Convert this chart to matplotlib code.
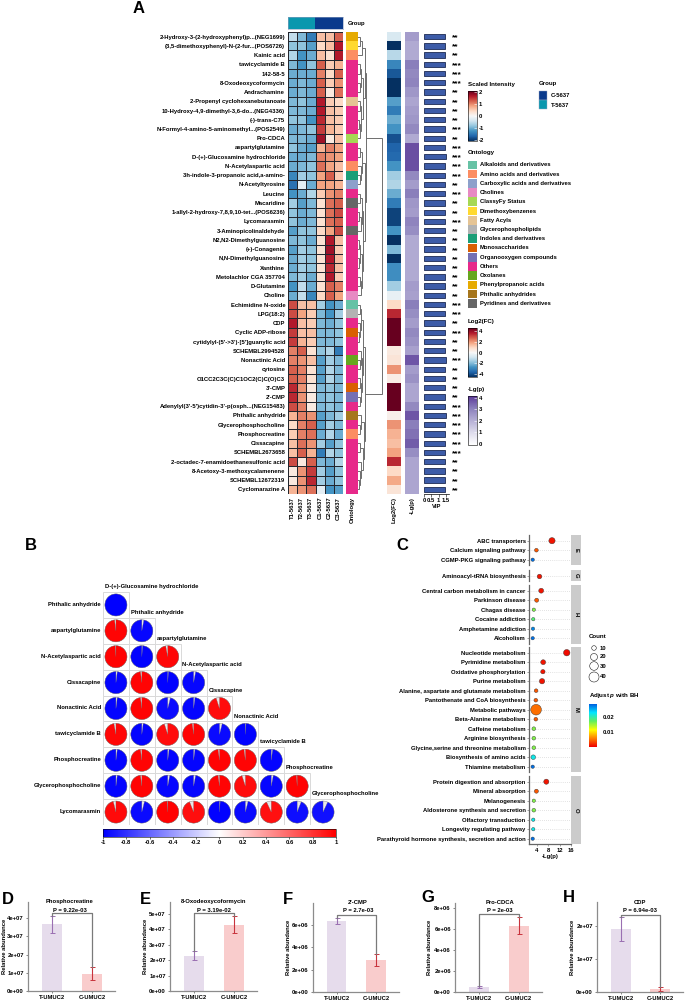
#!/usr/bin/python3

import matplotlib

matplotlib.use("Agg")
import matplotlib.pyplot as plt
import numpy as np
from matplotlib.cm import ScalarMappable
from matplotlib.colors import LinearSegmentedColormap, ListedColormap, Normalize
from matplotlib.patches import Circle, Rectangle, Wedge
from matplotlib.ticker import FuncFormatter

plt.rcParams["font.family"] = ["Liberation Sans", "DejaVu Sans"]
plt.rcParams["font.weight"] = "bold"
plt.rcParams["axes.labelweight"] = "bold"
plt.rcParams["axes.titleweight"] = "bold"
plt.rcParams["axes.unicode_minus"] = False
plt.rcParams["mathtext.fontset"] = "custom"
plt.rcParams["mathtext.bfit"] = "Liberation Sans:italic:bold"

W, H = 685, 1002
FS = 4.2

# Panel A
METABOLITES = [
    "2-Hydroxy-3-(2-hydroxyphenyl)p...(NEG1699)", "(3,5-dimethoxyphenyl)-N-(2-fur...(POS6726)",
    "Kainic acid", "tawicyclamide B", "142-58-5", "8-Oxodeoxycoformycin", "Andrachamine",
    "2-Propenyl cyclohexanebutanoate", "10-Hydroxy-4,9-dimethyl-3,6-do...(NEG4336)", "(-)-trans-C75",
    "N-Formyl-4-amino-5-aminomethyl...(POS2549)", "Pro-CDCA", "aspartylglutamine",
    "D-(+)-Glucosamine hydrochloride", "N-Acetylaspartic acid", "3h-indole-3-propanoic acid,a-amino-",
    "N-Acetyltyrosine", "Leucine", "Macaridine", "1-allyl-2-hydroxy-7,8,9,10-tet...(POS6236)",
    "Lycomarasmin", "3-Aminopicolinaldehyde", "N2,N2-Dimethylguanosine", "(+)-Conagenin",
    "N,N-Dimethylguanosine", "Xanthine", "Metolachlor CGA 357704", "D-Glutamine", "Choline",
    "Echimidine N-oxide", "LPG(18:2)", "CDP", "Cyclic ADP-ribose", "cytidylyl-(5'->3')-[5']guanylic acid",
    "SCHEMBL2994528", "Nonactinic Acid", "cytosine", "O1CC2C3C(C)C1OC2(C)C(O)C3", "3'-CMP", "2'-CMP",
    "Adenylyl(3'-5')cytidin-3'-p(osph...(NEG15483)", "Phthalic anhydride", "Glycerophosphocholine",
    "Phosphocreatine", "Cissacapine", "SCHEMBL2673658", "2-octadec-7-enamidoethanesulfonic acid",
    "8-Acetoxy-3-methoxycalamenene", "SCHEMBL12672319", "Cyclomarazine A",
]
SAMPLES = ["T1-5637", "T2-5637", "T3-5637", "C1-5637", "C2-5637", "C3-5637"]
INTENSITY = [
    [-0.5, -0.9, -1.4, 0.6, 0.6, 1.2], [-0.8, -0.8, -1.1, 0.4, 0.6, 1.6], [-0.6, -1.2, -1.0, 0.6, 0.3, 1.6],
    [-0.9, -1.2, -0.8, 1.2, 0.5, 0.7], [-1.0, -1.0, -1.0, 1.0, 0.4, 1.2], [-1.0, -0.9, -1.0, 1.2, 0.5, 0.9],
    [-1.0, -0.9, -1.0, 1.2, 0.2, 1.1], [-0.9, -0.8, -1.0, 1.6, 0.5, 0.4], [-0.9, -0.9, -1.0, 1.6, 0.6, 0.5],
    [-0.8, -0.8, -1.2, 1.5, 0.6, 0.5], [-1.0, -0.9, -0.8, 1.4, 0.7, 0.5], [-0.9, -0.9, -1.0, 1.7, 0.2, 0.6],
    [-0.8, -1.0, -1.1, 0.7, 1.0, 0.8], [-1.0, -1.0, -0.9, 1.0, 0.9, 0.8], [-1.0, -0.9, -0.8, 1.1, 0.8, 0.6],
    [-1.3, -0.7, -0.8, 0.8, 1.2, 0.5], [-1.5, -0.2, -1.0, 0.8, 0.8, 0.7], [-1.2, -1.0, -0.6, 0.5, 0.9, 1.0],
    [-0.7, -1.1, -0.9, 0.3, 1.1, 1.2], [-0.8, -1.0, -0.9, 0.3, 1.1, 1.3], [-0.8, -1.0, -0.9, 0.3, 1.1, 1.2],
    [-1.1, -0.8, -0.8, 0.4, 0.8, 1.3], [-0.9, -0.8, -1.0, 0.3, 1.6, 0.6], [-1.1, -0.7, -0.8, 0.3, 1.7, 0.5],
    [-1.0, -0.7, -0.8, 0.3, 1.6, 0.6], [-1.0, -0.7, -0.8, 0.3, 1.5, 0.6], [-0.9, -0.7, -1.0, 0.3, 1.6, 0.5],
    [-1.2, -0.5, -1.0, 0.3, 1.2, 1.0], [-1.0, -0.5, -1.3, 0.4, 1.2, 0.8], [1.3, 0.6, 0.6, -0.7, -1.2, -1.0],
    [1.3, 0.8, 0.5, -0.9, -1.2, -0.7], [1.6, 0.6, 0.5, -0.9, -1.0, -0.8], [1.4, 0.6, 0.6, -0.9, -0.9, -0.8],
    [1.4, 0.7, 0.5, -0.9, -0.9, -0.8], [1.0, 1.2, 0.3, -0.8, -0.6, -1.4], [1.0, 0.9, 0.6, -1.1, -0.7, -0.9],
    [1.2, 1.0, 0.3, -1.1, -0.6, -0.9], [1.2, 1.0, 0.3, -1.1, -0.6, -0.9], [1.5, 0.9, 0.2, -0.9, -0.8, -0.9],
    [1.5, 0.9, 0.2, -0.9, -0.8, -0.9], [1.3, 1.0, 0.2, -0.9, -0.8, -0.9], [0.7, 1.0, 0.9, -1.1, -0.9, -0.7],
    [0.4, 1.0, 1.2, -1.1, -0.7, -0.9], [0.5, 1.0, 1.1, -1.0, -0.6, -1.0], [0.6, 1.1, 0.9, -0.7, -1.1, -0.8],
    [0.6, 1.2, 0.7, -1.4, -0.6, -0.8], [1.3, 0.2, 1.2, -0.9, -1.0, -0.6], [0.2, 0.9, 1.4, -0.7, -1.1, -0.8],
    [0.2, 0.9, 1.5, -0.7, -1.0, -0.8], [0.7, 0.9, 1.1, -0.2, -1.2, -1.1],
]
ONTOLOGY_NAMES = [
    "Alkaloids and derivatives", "Amino acids and derivatives", "Carboxylic acids and derivatives", "Cholines",
    "ClassyFy Status", "Dimethoxybenzenes", "Fatty Acyls", "Glycerophospholipids", "Indoles and derivatives",
    "Monosaccharides", "Organooxygen compounds", "Others", "Oxolanes", "Phenylpropanoic acids",
    "Phthalic anhydrides", "Pyridines and derivatives",
]
ONTOLOGY_COLORS = [
    "#66c2a5", "#fc8d62", "#8da0cb", "#e78ac3", "#a6d854", "#ffd92f", "#e5c494", "#b3b3b3",
    "#1b9e77", "#d95f02", "#7570b3", "#e7298a", "#66a61e", "#e6ab02", "#a6761d", "#666666",
]
ONTOLOGY_ROW = [
    13, 5, 1, 11, 11, 11, 11, 6, 11, 11, 11, 4, 11, 11, 1, 8, 2, 11, 15, 11, 11, 15, 11, 11, 11,
    11, 11, 11, 3, 0, 7, 11, 9, 11, 11, 12, 11, 11, 9, 10, 11, 14, 11, 1, 11, 11, 11, 11, 11, 11,
]
LOG2FC = [
    -0.6, -4, -1.1, -2.6, -3.4, -4, -4, -2.2, -2.8, -2.0, -2.4, -3.5, -3.2, -3.1, -2.4, -1.4, -1.2, -2.0, -2.8,
    -3.7, -3.7, -2.4, -4, -1.8, -4, -2.5, -2.5, -1.4, -0.3, 0.8, 3.0, 4.5, 4.5, 4.5, 0.4, 0.5, 1.8, 0.3, 4.5,
    4.5, 4.5, 0.2, 1.8, 1.4, 1.2, 1.6, 3.0, 0.8, 1.5, 0.5,
]
LGP = [
    2.4, 2.1, 2.1, 3.0, 2.8, 2.9, 2.5, 2.2, 2.4, 2.5, 2.8, 2.1, 3.7, 3.7, 3.7, 2.8, 2.4, 3.0, 2.5, 2.4, 2.9, 2.7,
    2.1, 2.1, 2.1, 2.1, 2.1, 2.4, 2.3, 3.0, 2.7, 2.4, 2.8, 2.6, 2.3, 3.6, 2.4, 2.6, 2.2, 2.2, 2.8, 3.6, 3.0, 3.2,
    3.5, 2.7, 2.2, 2.2, 2.2, 2.2,
]
VIP = [
    1.40, 1.40, 1.40, 1.45, 1.45, 1.45, 1.40, 1.40, 1.42, 1.42, 1.45, 1.40, 1.45, 1.48, 1.45, 1.45, 1.40, 1.45,
    1.42, 1.42, 1.45, 1.42, 1.42, 1.42, 1.42, 1.42, 1.42, 1.42, 1.42, 1.45, 1.45, 1.42, 1.45, 1.42, 1.42, 1.48,
    1.42, 1.42, 1.42, 1.42, 1.45, 1.48, 1.45, 1.45, 1.45, 1.45, 1.42, 1.42, 1.42, 1.42,
]
STARS = [
    2, 2, 2, 3, 3, 3, 2, 2, 2, 2, 3, 2, 3, 3, 3, 3, 2, 3, 2, 2, 3, 2, 2, 2, 2,
    2, 2, 2, 2, 3, 3, 2, 3, 2, 2, 3, 2, 2, 2, 2, 3, 3, 3, 3, 3, 3, 2, 2, 2, 2,
]
# (merge height, left, right); leaves are row numbers
ROW_TREE = (
    24,
    (8,
     (7, (3.5, (2, 0, 1), 2),
      (5, (3, (1.5, 3, 4), (1.5, 5, 6)), (3, (1.5, 7, 8), (2, (1, 9, 10), 11)))),
     (6.5, (4, (1.5, 12, 13), (2.5, 14, (1.5, 15, 16))),
      (5, (3.5, (2, 17, 18), (2.5, (1, 19, 20), 21)),
       (4, (2, (1, 22, 23), (1, 24, 25)), (2.5, (1.5, 26, 27), 28))))),
    (7,
     (5, (3, (2, 29, 30), (1.5, 31, (1, 32, 33))),
      (4, (2.5, 34, (1.5, 35, 36)), (2.5, (1.5, 37, 38), (1.5, 39, 40)))),
     (5.5, (3, 41, (1.5, 42, 43)), (4.5, (2, 44, 45), (3, 46, (2, 47, (1, 48, 49)))))),
)

# Panel B
CORR_NAMES = [
    "D-(+)-Glucosamine hydrochloride", "Phthalic anhydride", "aspartylglutamine", "N-Acetylaspartic acid",
    "Cissacapine", "Nonactinic Acid", "tawicyclamide B", "Phosphocreatine", "Glycerophosphocholine", "Lycomarasmin",
]
CORR = [
    [-1.0],
    [0.98, -0.97],
    [0.99, -0.99, 0.97],
    [-0.98, 0.98, -0.99, -0.97],
    [-0.98, 0.98, -0.96, -0.98, 0.95],
    [0.97, -0.98, 0.95, 0.98, -0.96, -0.99],
    [-0.98, 0.98, -0.98, -0.98, 0.98, 0.98, -0.98],
    [-0.98, 0.98, -0.97, -0.97, 0.98, 0.95, -0.97, 0.99],
    [0.96, -0.96, 0.99, 0.94, -0.99, -0.96, 0.93, -0.94, -0.93],
]

# Panel C
PATH_GROUPS = ["E", "G", "H", "M", "O"]
PATH_SIZES = [3, 1, 6, 13, 7]
PATH_NAMES = [
    "ABC transporters", "Calcium signaling pathway", "CGMP-PKG signaling pathway", "Aminoacyl-tRNA biosynthesis",
    "Central carbon metabolism in cancer", "Parkinson disease", "Chagas disease", "Cocaine addiction",
    "Amphetamine addiction", "Alcoholism", "Nucleotide metabolism", "Pyrimidine metabolism",
    "Oxidative phosphorylation", "Purine metabolism", "Alanine, aspartate and glutamate metabolism",
    "Pantothenate and CoA biosynthesis", "Metabolic pathways", "Beta-Alanine metabolism", "Caffeine metabolism",
    "Arginine biosynthesis", "Glycine,serine and threonine metabolism", "Biosynthesis of amino acids",
    "Thiamine metabolism", "Protein digestion and absorption", "Mineral absorption", "Melanogenesis",
    "Aldosterone synthesis and secretion", "Olfactory transduction", "Longevity regulating pathway",
    "Parathyroid hormone synthesis, secretion and action",
]
PATH_LGP = [
    9.3, 3.8, 2.5, 4.7, 5.5, 3.9, 2.9, 2.7, 2.6, 2.5, 14.5, 6.2, 6.1, 5.8, 3.7,
    3.6, 3.7, 3.6, 2.9, 2.9, 2.9, 2.7, 2.5, 7.3, 3.8, 2.9, 2.9, 2.7, 2.7, 2.5,
]
PATH_COUNT = [14, 4, 3, 7, 8, 5, 3, 3, 3, 3, 15, 8, 6, 10, 4, 4, 44, 4, 4, 4, 4, 7, 3, 9, 5, 3, 4, 3, 3, 3]
PATH_PADJ = [
    0.001, 0.004, 0.028, 0.001, 0.001, 0.004, 0.016, 0.018, 0.027, 0.028, 0.0005, 0.001, 0.001, 0.001, 0.004,
    0.004, 0.005, 0.004, 0.016, 0.016, 0.016, 0.022, 0.028, 0.001, 0.004, 0.016, 0.016, 0.022, 0.022, 0.028,
]

# Panels D-H
BAR_GROUPS = ["T-UMUC2", "C-UMUC2"]
BAR_TITLES = ["Phosphocreatine", "8-Oxodeoxycoformycin", "2'-CMP", "Pro-CDCA", "CDP"]
BAR_PVALUES = ["P = 9.22e-03", "P = 3.19e-02", "P = 2.7e-03", "P = 2e-03", "P = 6.94e-03"]
BAR_MEANS = [[3.67e7, 0.93e7], [2.28e7, 4.27e7], [6.35e6, 2.87e6], [0.5e6, 6.27e6], [1.92e7, 0.09e7]]
BAR_LOWS = [[3.2e7, 0.6e7], [2.0e7, 3.73e7], [6.1e6, 2.33e6], [0.38e6, 5.48e6], [1.57e7, 0.03e7]]
BAR_HIGHS = [[4.1e7, 1.3e7], [2.58e7, 4.85e7], [6.6e6, 3.37e6], [0.57e6, 7.08e6], [2.27e7, 0.15e7]]
BAR_BRACKETS = [4.29e7, 5.06e7, 6.86e6, 7.37e6, 2.36e7]
BAR_TICKS = [
    [0, 1e7, 2e7, 3e7, 4e7],
    [0, 1e7, 2e7, 3e7, 4e7, 5e7],
    [0, 2e6, 4e6, 6e6],
    [0, 2e6, 4e6, 6e6, 8e6],
    [0, 1e7, 2e7],
]


def px_ax(x0, y0, x1, y1, **kw):
    return fig.add_axes([x0 / W, 1 - y1 / H, (x1 - x0) / W, (y1 - y0) / H], **kw)


def draw_tree(ax, node):
    # returns (row position, height) of the node
    if not isinstance(node, tuple):
        return node + 0.5, 0
    ya, ha = draw_tree(ax, node[1])
    yb, hb = draw_tree(ax, node[2])
    h = node[0]
    ax.plot([ha, h, h, hb], [ya, ya, yb, yb], color="#6e6e6e", lw=0.7, solid_joinstyle="miter")
    return (ya + yb) / 2, h


def add_colorbar(x0, y0, x1, y1, cmap, vmin, vmax, ticks):
    cax = px_ax(x0, y0, x1, y1)
    cb = fig.colorbar(ScalarMappable(Normalize(vmin, vmax), cmap), cax=cax, ticks=ticks)
    cb.outline.set_linewidth(0.4)
    cax.tick_params(labelsize=FS, length=2, width=0.4, direction="in", color="white", pad=1.5)
    return cb


fig = plt.figure(figsize=(W / 100, H / 100), dpi=100)
n_rows = len(METABOLITES)
row_top, row_bottom = 32, 494

# Panel A heatmap
ax = px_ax(288, row_top, 343, row_bottom)
ax.pcolormesh(np.array(INTENSITY), cmap="RdBu_r", vmin=-2, vmax=2, edgecolors="#23262e", linewidth=0.45)
ax.set_ylim(n_rows, 0)
ax.set_yticks(np.arange(n_rows) + 0.5, METABOLITES, fontsize=FS)
ax.set_xticks(np.arange(6) + 0.5, SAMPLES, fontsize=FS, rotation=90)
ax.tick_params(length=0, pad=2)
for s in ax.spines.values():
    s.set_visible(False)

# group strip
ax = px_ax(288, 17, 343, 29)
ax.imshow([[1, 1, 1, 0, 0, 0]], aspect="auto", cmap=ListedColormap(["#0a3a8c", "#0a97ae"]))
ax.set_xticks([])
ax.set_yticks([])
for s in ax.spines.values():
    s.set_color("#8f9fc0")
    s.set_linewidth(0.4)

# ontology strip
ax = px_ax(346, row_top, 358, row_bottom)
ax.imshow(np.array(ONTOLOGY_ROW)[:, None], aspect="auto", cmap=ListedColormap(ONTOLOGY_COLORS),
          vmin=0, vmax=15, extent=[0, 1, n_rows, 0], interpolation="nearest")
ax.axis("off")

# row dendrogram
ax = px_ax(358, row_top, 384, row_bottom)
draw_tree(ax, ROW_TREE)
ax.set_xlim(0, 26)
ax.set_ylim(n_rows, 0)
ax.axis("off")

# Log2FC and -Lg(p) columns
ax = px_ax(387, row_top, 401, row_bottom)
ax.imshow(np.array(LOG2FC)[:, None], aspect="auto", cmap="RdBu_r", vmin=-4, vmax=4, interpolation="nearest")
ax.axis("off")

lgp_cmap = LinearSegmentedColormap.from_list("lgp", ["#ffffff", "#dedcec", "#b5afd5", "#8b80bc", "#5c3a98"])
ax = px_ax(405, row_top, 419, row_bottom)
ax.imshow(np.array(LGP)[:, None], aspect="auto", cmap=lgp_cmap, vmin=0, vmax=4, interpolation="nearest")
ax.axis("off")

# VIP bars
ax = px_ax(424, row_top, 449, row_bottom)
ax.barh(np.arange(n_rows) + 0.5, VIP, height=0.58, color="#3d5ca8", edgecolor="#1c2a52", linewidth=0.6)
ax.set_xlim(0, 1.7)
ax.set_ylim(n_rows, 0)
ax.set_yticks([])
ax.set_xticks([0, 0.5, 1, 1.5], ["0", "0.5", "1", "1.5"], fontsize=FS)
ax.tick_params(axis="x", length=2, width=0.4, pad=1)
ax.set_xlabel("VIP", fontsize=FS, labelpad=0.5)
for side in ["top", "left", "right"]:
    ax.spines[side].set_visible(False)
ax.spines["bottom"].set_linewidth(0.5)
for i, n in enumerate(STARS):
    ax.text(1.9, i + 0.62, "*" * n, fontsize=6, va="center", ha="left", clip_on=False)

# Panel A colour legends
add_colorbar(468, 91, 477, 141, "RdBu_r", -2.1, 2.1, [-2, -1, 0, 1, 2])
add_colorbar(468, 328, 477, 377, "RdBu_r", -4.5, 4.5, [-4, -2, 0, 2, 4])
add_colorbar(468, 396, 477, 445, lgp_cmap, -0.1, 4.15, [0, 1, 2, 3, 4])

# Panel B
names = CORR_NAMES
blue_red = LinearSegmentedColormap.from_list("corr", ["#0000ff", "#ffffff", "#ff0000"])
ax = px_ax(103, 592, 336, 825)
for i, row in enumerate(CORR):
    y = 8.5 - i
    for j, r in enumerate(row):
        x = j + 0.5
        ax.add_patch(Rectangle((j, 8 - i), 1, 1, fc="white", ec="#d9d9d9", lw=0.7))
        ax.add_patch(Circle((x, y), 0.425, fc="#e8e8e8", ec="#8a8a8a", lw=0.35))
        theta = (90 - 360 * r, 90) if r > 0 else (90, 90 - 360 * r)
        ax.add_patch(Wedge((x, y), 0.425, theta[0], theta[1], fc=blue_red((r + 1) / 2), ec="#6a6a6a", lw=0.2))
    ax.text(-0.08, y + 0.02, names[i + 1], ha="right", va="center", fontsize=FS)
    ax.text(i + 0.07, y + 0.71, names[i], ha="left", va="center", fontsize=FS, clip_on=False)
ax.set_xlim(0, 9)
ax.set_ylim(0, 9)
ax.axis("off")

cax = px_ax(103, 829, 336, 837)
cb = fig.colorbar(ScalarMappable(Normalize(-1, 1), blue_red), cax=cax, orientation="horizontal",
                  ticks=np.arange(-1, 1.01, 0.2))
cb.set_ticklabels(["-1", "-0.8", "-0.6", "-0.4", "-0.2", "0", "0.2", "0.4", "0.6", "0.8", "1"])
cb.outline.set_linewidth(0.4)
cax.tick_params(labelsize=FS, length=1.5, width=0.4, pad=1)

# Panel C
jet_like = LinearSegmentedColormap.from_list(
    "padj", ["#ee0000", "#ff7f00", "#ffff00", "#60ee60", "#00e5ff", "#0060e0"]
)
panel_tops = [535, 570, 585, 647, 776]
start = 0
for g, n, top in zip(PATH_GROUPS, PATH_SIZES, panel_tops):
    bottom = top + (n + 0.2) * 9.5
    ax = px_ax(529, top, 571, bottom)
    stop = start + n
    ypos = np.arange(n)
    ax.hlines(ypos, 1.2, 16, color="#c8c8c8", lw=0.5, linestyles=(0, (1, 2)), zorder=1)
    ax.scatter(PATH_LGP[start:stop], ypos, s=np.array(PATH_COUNT[start:stop]) * 1.3 + 2,
               c=PATH_PADJ[start:stop], cmap=jet_like, vmin=0, vmax=0.0287,
               edgecolors="#333333", linewidths=0.3, zorder=3, clip_on=False)
    ax.set_xlim(1.2, 16)
    ax.set_ylim(n - 0.4, -0.6)
    ax.set_yticks(ypos, PATH_NAMES[start:stop], fontsize=FS)
    ax.tick_params(axis="y", length=1.5, width=0.4, pad=1, color="#555555")
    for side in ["top", "right"]:
        ax.spines[side].set_visible(False)
    ax.spines["left"].set_color("#666666")
    ax.spines["left"].set_linewidth(0.9)
    if g == PATH_GROUPS[-1]:
        ax.set_xticks([4, 8, 12, 16])
        ax.tick_params(axis="x", labelsize=FS, length=1.5, width=0.4, pad=1, color="#555555")
        ax.set_xlabel("-Lg(p)", fontsize=FS, labelpad=1)
        ax.spines["bottom"].set_color("#666666")
        ax.spines["bottom"].set_linewidth(0.9)
    else:
        ax.set_xticks([])
        ax.spines["bottom"].set_visible(False)
    strip = px_ax(571, top, 581, bottom)
    strip.set_facecolor("#cbcbcb")
    strip.set_xticks([])
    strip.set_yticks([])
    for s in strip.spines.values():
        s.set_visible(False)
    strip.text(0.5, 0.5, g, rotation=-90, ha="center", va="center", fontsize=FS, transform=strip.transAxes)
    start = stop

cax = px_ax(589, 704, 597, 747)
cb = fig.colorbar(ScalarMappable(Normalize(0, 0.0287), jet_like), cax=cax, ticks=[0.01, 0.02])
cb.set_ticklabels(["0.01", "0.02"])
cb.outline.set_visible(False)
cax.tick_params(labelsize=FS, length=0, pad=4)

# Panels D-H
bar_boxes = [
    (28, 902, 115, 991, 4.88e7), (170, 902, 257, 991, 5.76e7), (312.7, 903, 399, 992.3, 7.92e6),
    (455, 902.7, 541.7, 992.3, 8.47e6), (597, 902, 683, 992.3, 2.74e7),
]
ylabel_x = [6.5, 148, 291, 432, 575]
sci = FuncFormatter(lambda v, _: f"{v:.0e}")
for k, box in enumerate(bar_boxes):
    ax = px_ax(box[0], box[1], box[2], box[3])
    ax.bar([0, 1], BAR_MEANS[k], width=0.5, color=["#e6dcec", "#f9cccc"])
    for x, c in zip([0, 1], ["#9a6fb2", "#c8333c"]):
        m = BAR_MEANS[k][x]
        ax.errorbar(x, m, yerr=[[m - BAR_LOWS[k][x]], [BAR_HIGHS[k][x] - m]], color=c, lw=0.8,
                    capsize=1.8, capthick=0.7)
    top = BAR_BRACKETS[k]
    ax.plot([0, 0, 1, 1], [BAR_HIGHS[k][0], top, top, BAR_HIGHS[k][1]], color="#7a7a7a", lw=0.9)
    ax.set_xlim(-0.6, 1.575)
    ax.set_ylim(0, box[4])
    ax.set_xticks([0, 1], BAR_GROUPS)
    ax.set_yticks(BAR_TICKS[k])
    ax.yaxis.set_major_formatter(sci)
    ax.tick_params(labelsize=FS, length=1.5, width=0.5, pad=1.5, color="#555555")
    ax.set_ylabel("Relative abundance", fontsize=FS)
    ax.yaxis.set_label_coords((ylabel_x[k] - box[0]) / (box[2] - box[0]), 0.5)
    for side in ["top", "right"]:
        ax.spines[side].set_visible(False)
    for side in ["left", "bottom"]:
        ax.spines[side].set_color("#8c8c8c")
        ax.spines[side].set_linewidth(0.9)

# page-coordinate layer for titles and legends
page = fig.add_axes([0, 0, 1, 1])
page.set_xlim(0, W)
page.set_ylim(H, 0)
page.axis("off")
page.patch.set_alpha(0)

for label, x, y in [("A", 133, 8), ("B", 25, 545), ("C", 396, 545), ("D", 2, 899), ("E", 140, 899),
                    ("F", 283, 899), ("G", 421, 897), ("H", 563, 897)]:
    page.text(x, y, label, fontsize=12, ha="left", va="center")

page.text(348, 23.5, "Group", fontsize=FS, va="center")
page.text(352, 497, "Ontology", fontsize=FS, ha="center", va="top", rotation=90)
page.text(394, 497, "Log2(FC)", fontsize=FS, ha="center", va="top", rotation=90)
page.text(412, 497, "-Lg(p)", fontsize=FS, ha="center", va="top", rotation=90)

page.text(468, 84, "Scaled Intensity", fontsize=FS + 0.2, va="center")
page.text(539, 83, "Group", fontsize=FS + 0.2, va="center")
for i, (lab, col) in enumerate(zip(["C-5637", "T-5637"], ["#0a3a8c", "#0a97ae"])):
    page.add_patch(Rectangle((539, 91 + i * 9.4), 8.5, 8.5, fc=col, ec="#9aa7c4", lw=0.3))
    page.text(551, 95.3 + i * 9.8, lab, fontsize=FS, va="center")

page.text(468, 152.5, "Ontology", fontsize=FS + 0.2, va="center")
for i, (lab, col) in enumerate(zip(ONTOLOGY_NAMES, ONTOLOGY_COLORS)):
    page.add_patch(Rectangle((468, 160.5 + i * 9.24), 9, 8.6, fc=col, ec="none"))
    page.text(480, 164.8 + i * 9.24, lab, fontsize=FS, va="center")
page.text(468, 321, "Log2(FC)", fontsize=FS + 0.2, va="center")
page.text(468, 389, "-Lg(p)", fontsize=FS + 0.2, va="center")

page.text(589, 637, "Count", fontsize=FS + 0.2, va="center")
for y, c, r in zip([648, 657, 666, 677], [10, 20, 30, 40], [2.3, 3.5, 4.3, 5.0]):
    page.add_patch(Circle((594, y), r, fc="white", ec="#222222", lw=0.4))
    page.text(600, y, str(c), fontsize=FS, va="center")
page.text(589, 696, r"Adjust $\mathbfit{p}$ with BH", fontsize=FS + 0.2, va="center")

title_centers = [70, 214, 358, 500, 640]
for k, cx in enumerate(title_centers):
    page.text(cx, 902, BAR_TITLES[k], fontsize=FS, ha="center", va="center")
    page.text(cx, 910, BAR_PVALUES[k], fontsize=FS, ha="center", va="center")

fig.savefig("out.png", dpi=100)
